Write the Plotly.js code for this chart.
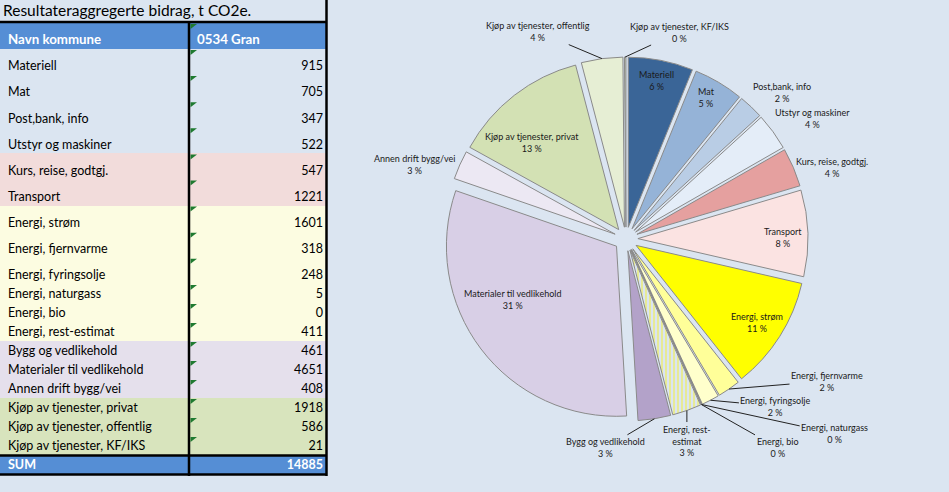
<!DOCTYPE html>
<html><head><meta charset="utf-8">
<script src="https://cdn.plot.ly/plotly-3.0.1.min.js"></script>
<style>html,body{margin:0;padding:0;background:#dbe5f1;} #chart{width:949px;height:492px;}</style>
</head><body><div id="chart"></div>
<script>
// ---------- data ----------
const tableTitle = 'Resultateraggregerte bidrag, t CO2e.';
const headerLabels = ['Navn kommune', '0534 Gran'];
const categories = ['Materiell','Mat','Post,bank, info','Utstyr og maskiner','Kurs, reise, godtgj.','Transport',
  'Energi, strøm','Energi, fjernvarme','Energi, fyringsolje','Energi, naturgass','Energi, bio','Energi, rest-estimat',
  'Bygg og vedlikehold','Materialer til vedlikehold','Annen drift bygg/vei',
  'Kjøp av tjenester, privat','Kjøp av tjenester, offentlig','Kjøp av tjenester, KF/IKS'];
const values = [915,705,347,522,547,1221,1601,318,248,5,0,411,461,4651,408,1918,586,21];
const sumLabel = 'SUM';

// ---------- styles ----------
const W = 949, H = 492;
const px = x => x / W, py = y => 1 - y / H;
const FONT = 'Lato, "Open Sans", sans-serif';
const rowFills = ['#dbe5f1','#dbe5f1','#dbe5f1','#dbe5f1','#f2dcdb','#f2dcdb',
  '#fcfce1','#fcfce1','#fcfce1','#fcfce1','#fcfce1','#fcfce1',
  '#e5e0ec','#e5e0ec','#e5e0ec','#d8e4bd','#d8e4bd','#d8e4bd'];
const sliceColors = ['#3a6597','#95b3d7','#b9cde5','#e4edf8','#e5a09f','#fbe3e2',
  '#ffff00','#ffff99','#ffffcc','#ffff70','#ffffb0','#ffff8a',
  '#b3a2c9','#d8cfe6','#ece8f3','#d3e1b4','#e6eed4','#c5cfb5'];
const slicePatterns = categories.map((c,i) => i === 11 ? '|' : '');
// label placement (pixel offset from the slice's outer mid point) and whether a leader line is drawn
const labelOffset = [[-4,20],[-12,15],[31,-14],[39,-13],[39,0],[-25,4],[-23,-14],[98,-8],[65,6],[133,29],[76,43],[0,30],[-49,29],[32,-49],[-45,0],[18,47],[-64,-27],[54,-25]];
const labelLine = [0,0,0,0,0,0,0,1,1,1,1,1,1,0,0,0,1,1];
const blue = '#558ed5';
const clear = 'rgba(0,0,0,0)';
const nb = s => String(s).replace(/ /g, '\u00a0');

const total = values.reduce((a,b) => a + b, 0);
const pct = values.map(v => Math.round(v / total * 100) + ' %');
const pieText = categories.map((c,i) => c.replace('rest-', 'rest-<br>') + '<br>' + pct[i]);

// two row groups (different row heights)
const g1 = 9;
const lab1 = categories.slice(0, g1).map(nb), val1 = values.slice(0, g1), fill1 = rowFills.slice(0, g1);
const lab2 = categories.slice(g1 + 1).map(nb).concat([sumLabel]);
const val2 = values.slice(g1 + 1).concat([total]);
const fill2 = rowFills.slice(g1 + 1).concat([blue]);
const col2 = lab2.map((l,i) => i === lab2.length - 1 ? 'white' : 'black');
const wt2 = lab2.map((l,i) => i === lab2.length - 1 ? 'bold' : 'normal');
const blank = a => a.map(() => '');

const noLine = {width: 0, color: clear};
const cellFont = {family: FONT, size: 12.5, color: 'black'};
const H1 = 26.1, H2 = 19;

const traces = [
  // fills
  {type: 'table', domain: {x: [0, px(327)], y: [py(300), py(23)]}, columnwidth: [189, 138],
   header: {values: ['', ''], height: 26, fill: {color: blue}, line: noLine},
   cells: {values: [blank(lab1), blank(lab1)], height: H1, fill: {color: [fill1, fill1]}, line: noLine}},
  {type: 'table', domain: {x: [0, px(327)], y: [0, py(284)]}, columnwidth: [189, 138],
   header: {values: ['', ''], height: H2, fill: {color: rowFills[g1]}, line: noLine},
   cells: {values: [blank(lab2), blank(lab2)], height: H2, fill: {color: [fill2, fill2]}, line: noLine}},
  // texts
  {type: 'table', domain: {x: [0, px(331)], y: [py(310), py(26.5)]}, columnwidth: [189, 142],
   header: {values: headerLabels.map(nb), align: ['left','left'], height: 26.5,
            fill: {color: clear}, line: noLine, font: {family: FONT, size: 13.3, color: 'white', weight: 'bold'}},
   cells: {values: [lab1, val1], align: ['left','right'], height: H1,
           fill: {color: clear}, line: noLine, font: cellFont}},
  {type: 'table', domain: {x: [0, px(331)], y: [0, py(280.5)]}, columnwidth: [189, 142],
   header: {values: [nb(categories[g1]), values[g1]], align: ['left','right'], height: H2,
            fill: {color: clear}, line: noLine, font: cellFont},
   cells: {values: [lab2, val2], align: ['left','right'], height: H2,
           fill: {color: clear}, line: noLine,
           font: {family: FONT, size: 12.5, color: [col2, col2], weight: [wt2, wt2]}}}
];

const pieDom = {x: [px(626-182), px(626+182)], y: [py(421), py(57)]};
traces.push({type: 'pie', labels: categories, values: values, sort: false, direction: 'clockwise', rotation: 0,
   pull: 0.07, domain: pieDom,
   marker: {colors: sliceColors, line: {color: '#8a8a8a', width: 1},
            pattern: {shape: slicePatterns, fgcolor: '#eded70', size: 4, solidity: 0.35}},
   textinfo: 'none', hoverinfo: 'none', showlegend: false});

// slice labels anchored at each slice's outer mid point (from the data fractions)
const cxp = (pieDom.x[0] + pieDom.x[1]) / 2 * W;
const cyp = (1 - (pieDom.y[0] + pieDom.y[1]) / 2) * H;
const Rp = (pieDom.y[1] - pieDom.y[0]) * H / 2;
let cum = 0;
const annotations = values.map((v,i) => {
  const mid = (cum + v / 2) / total * 2 * Math.PI; cum += v;
  const ax = cxp + Rp * Math.sin(mid), ay = cyp - Rp * Math.cos(mid);
  const [dx, dy] = labelOffset[i];
  const base = {xref: 'paper', yref: 'paper', x: px(ax), y: py(ay), text: pieText[i],
    font: {family: FONT, size: 9, color: '#1a1a1a'}, align: 'center', xanchor: 'center', yanchor: 'middle'};
  if (labelLine[i]) return Object.assign(base, {showarrow: true, ax: dx, ay: dy, arrowhead: 0, arrowwidth: 1,
    arrowcolor: '#222', standoff: 0, startstandoff: 0});
  return Object.assign(base, {showarrow: false, xshift: dx, yshift: -dy});
});

// table frame lines and cell flags
const L = (x0,y0,x1,y1,w) => ({type:'line', xref:'paper', yref:'paper', x0:px(x0), y0:py(y0), x1:px(x1), y1:py(y1), line:{color:'black', width:w||2.5}});
const shapes = [L(0,22,327,22), L(189,22,189,476), L(326.5,0,326.5,476), L(0,455.5,327,455.5), L(0,474.5,327,474.5)];
const rowTops = [23];
for (let i = 0; i <= g1; i++) rowTops.push(49 + i * H1);
for (let i = 1; i < categories.length - g1; i++) rowTops.push(284 + i * H2);
rowTops.forEach(t => {
  if (t > 450) return;
  shapes.push({type:'path', xref:'paper', yref:'paper', fillcolor:'#1f7a30', line:{width:0},
    path:`M ${px(190.5)},${py(t+1)} L ${px(197)},${py(t+1)} L ${px(190.5)},${py(t+6)} Z`});
});

const layout = {
  width: W, height: H, margin: {l:0, r:0, t:0, b:0},
  paper_bgcolor: '#dbe5f1', plot_bgcolor: '#dbe5f1', showlegend: false,
  title: {text: tableTitle, x: px(3), xanchor: 'left', xref: 'paper', y: py(11), yanchor: 'middle', yref: 'paper',
          font: {family: FONT, size: 15.5, color: 'black'}},
  shapes: shapes, annotations: annotations
};
Plotly.newPlot('chart', traces, layout, {displayModeBar: false, staticPlot: true});
</script></body></html>
